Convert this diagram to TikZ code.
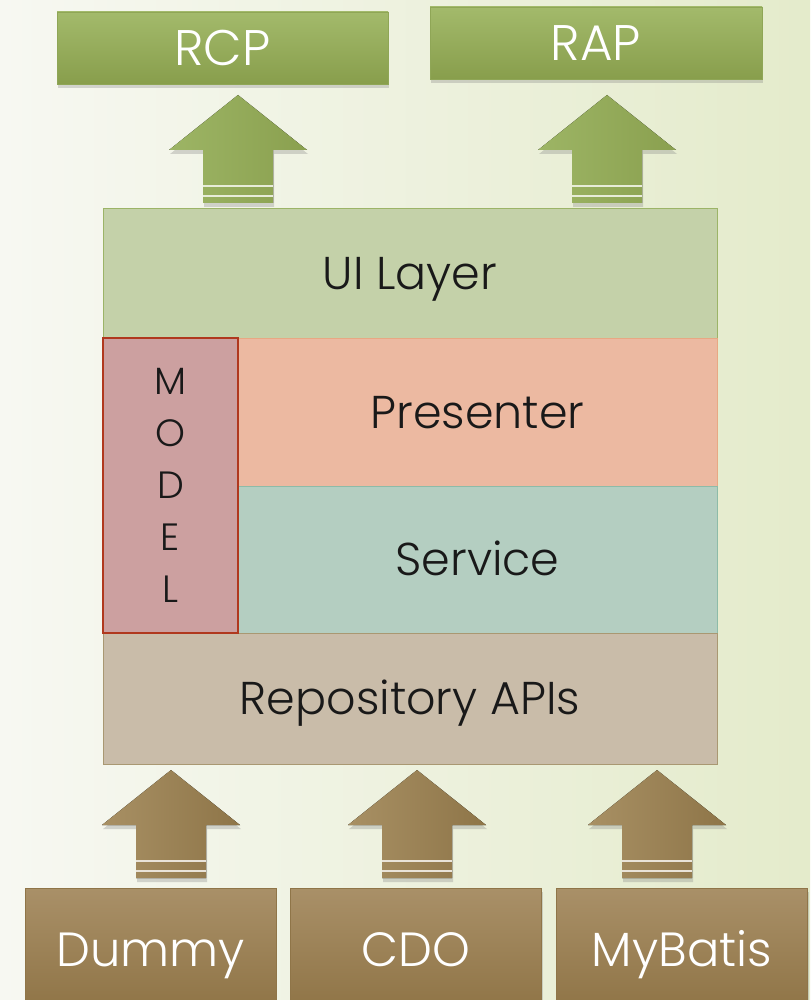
\documentclass[tikz,border=0pt]{standalone}
\usepackage{fontspec}
\setmainfont{Poppins Light}
\usetikzlibrary{shadows}

\definecolor{bgleft}{HTML}{F7F8F2}
\definecolor{bgright}{HTML}{E4EBCB}
\definecolor{grtop}{HTML}{A3BA6B}
\definecolor{grbot}{HTML}{889E4C}
\definecolor{grline}{HTML}{8FA656}
\definecolor{grarrl}{HTML}{9DB565}
\definecolor{grarrr}{HTML}{8AA04F}
\definecolor{brtop}{HTML}{A99068}
\definecolor{brbot}{HTML}{8F7446}
\definecolor{brline}{HTML}{8F7548}
\definecolor{brarrl}{HTML}{A89064}
\definecolor{brarrr}{HTML}{8E7548}
\definecolor{uifill}{HTML}{C4D1A9}
\definecolor{uiline}{HTML}{9CB467}
\definecolor{prfill}{HTML}{ECB9A1}
\definecolor{prline}{HTML}{E8A883}
\definecolor{svfill}{HTML}{B4CEC1}
\definecolor{svline}{HTML}{8DBBA8}
\definecolor{mdfill}{HTML}{CCA0A0}
\definecolor{mdline}{HTML}{B0381E}
\definecolor{rpfill}{HTML}{C9BCA9}
\definecolor{rpline}{HTML}{A99872}

\tikzset{
  boxshadow/.style={drop shadow={shadow xshift=0.5pt,shadow yshift=-2pt,opacity=0.3}},
  topbox/.style={draw=grline,top color=grtop,bottom color=grbot,text=white,
    font=\fontsize{25}{30}\selectfont,minimum height=36pt,inner sep=0pt,
    text height=17.5pt,text depth=0pt,boxshadow},
  botbox/.style={draw=brline,top color=brtop,bottom color=brbot,text=white,
    font=\fontsize{24}{30}\selectfont,minimum width=125.5pt,minimum height=61pt,inner sep=0pt,
    text height=17pt,text depth=0pt,boxshadow},
  layer/.style={draw,inner sep=0pt,text=black!90,font=\fontsize{23}{28}\selectfont,
    text height=16pt,text depth=0pt},
  pics/uparrow/.style 2 args={code={
    \fill[left color=#1,right color=#2,boxshadow]
      (-35,0) -- (-35,-53) -- (-69,-53) -- (0,-108) -- (69,-53) -- (35,-53) -- (35,0) -- cycle;
    \draw[white!75!#1,line width=1pt] (-35,-17) -- (35,-17);
    \draw[white!75!#1,line width=1pt] (-35,-7) -- (35,-7);
  }}
}

\begin{document}
\begin{tikzpicture}[x=0.5pt,y=-0.5pt]
  \useasboundingbox (0,0) rectangle (810,1000);
  \shade[left color=bgleft,right color=bgright] (0,0) rectangle (810,1000);

  % targets
  \node[topbox,minimum width=165.5pt] (rcp) at (222.5,48) {RCP};
  \node[topbox,minimum width=166pt] (rap) at (596,43) {RAP};

  % layers
  \node[layer,draw=uiline,fill=uifill,minimum width=307pt,minimum height=65pt] (ui) at (410,273) {UI Layer};
  \node[layer,draw=prline,fill=prfill,minimum width=239.5pt,minimum height=74pt] (pres) at (477.5,412) {Presenter};
  \node[layer,draw=svline,fill=svfill,minimum width=239.5pt,minimum height=73.5pt] (serv) at (477.5,559.5) {Service};
  \node[layer,draw=rpline,fill=rpfill,minimum width=307pt,minimum height=65.5pt] (repo) at (410,698.5) {Repository APIs};
  \node[layer,draw=mdline,line width=1pt,fill=mdfill,minimum width=67.5pt,minimum height=147.5pt,
        text height=,text depth=,align=center,font=\fontsize{19}{26}\selectfont] (model) at (170.5,485.5) {M\\O\\D\\E\\L};

  % sources
  \node[botbox] (dummy) at (150.5,949) {Dummy};
  \node[botbox] (cdo) at (416,949) {CDO};
  \node[botbox] (mybatis) at (682,949) {MyBatis};

  % arrows
  \pic at (238,203) {uparrow={grarrl}{grarrr}};
  \pic at (607,203) {uparrow={grarrl}{grarrr}};
  \pic at (171,878) {uparrow={brarrl}{brarrr}};
  \pic at (417,878) {uparrow={brarrl}{brarrr}};
  \pic at (657,878) {uparrow={brarrl}{brarrr}};
\end{tikzpicture}
\end{document}
